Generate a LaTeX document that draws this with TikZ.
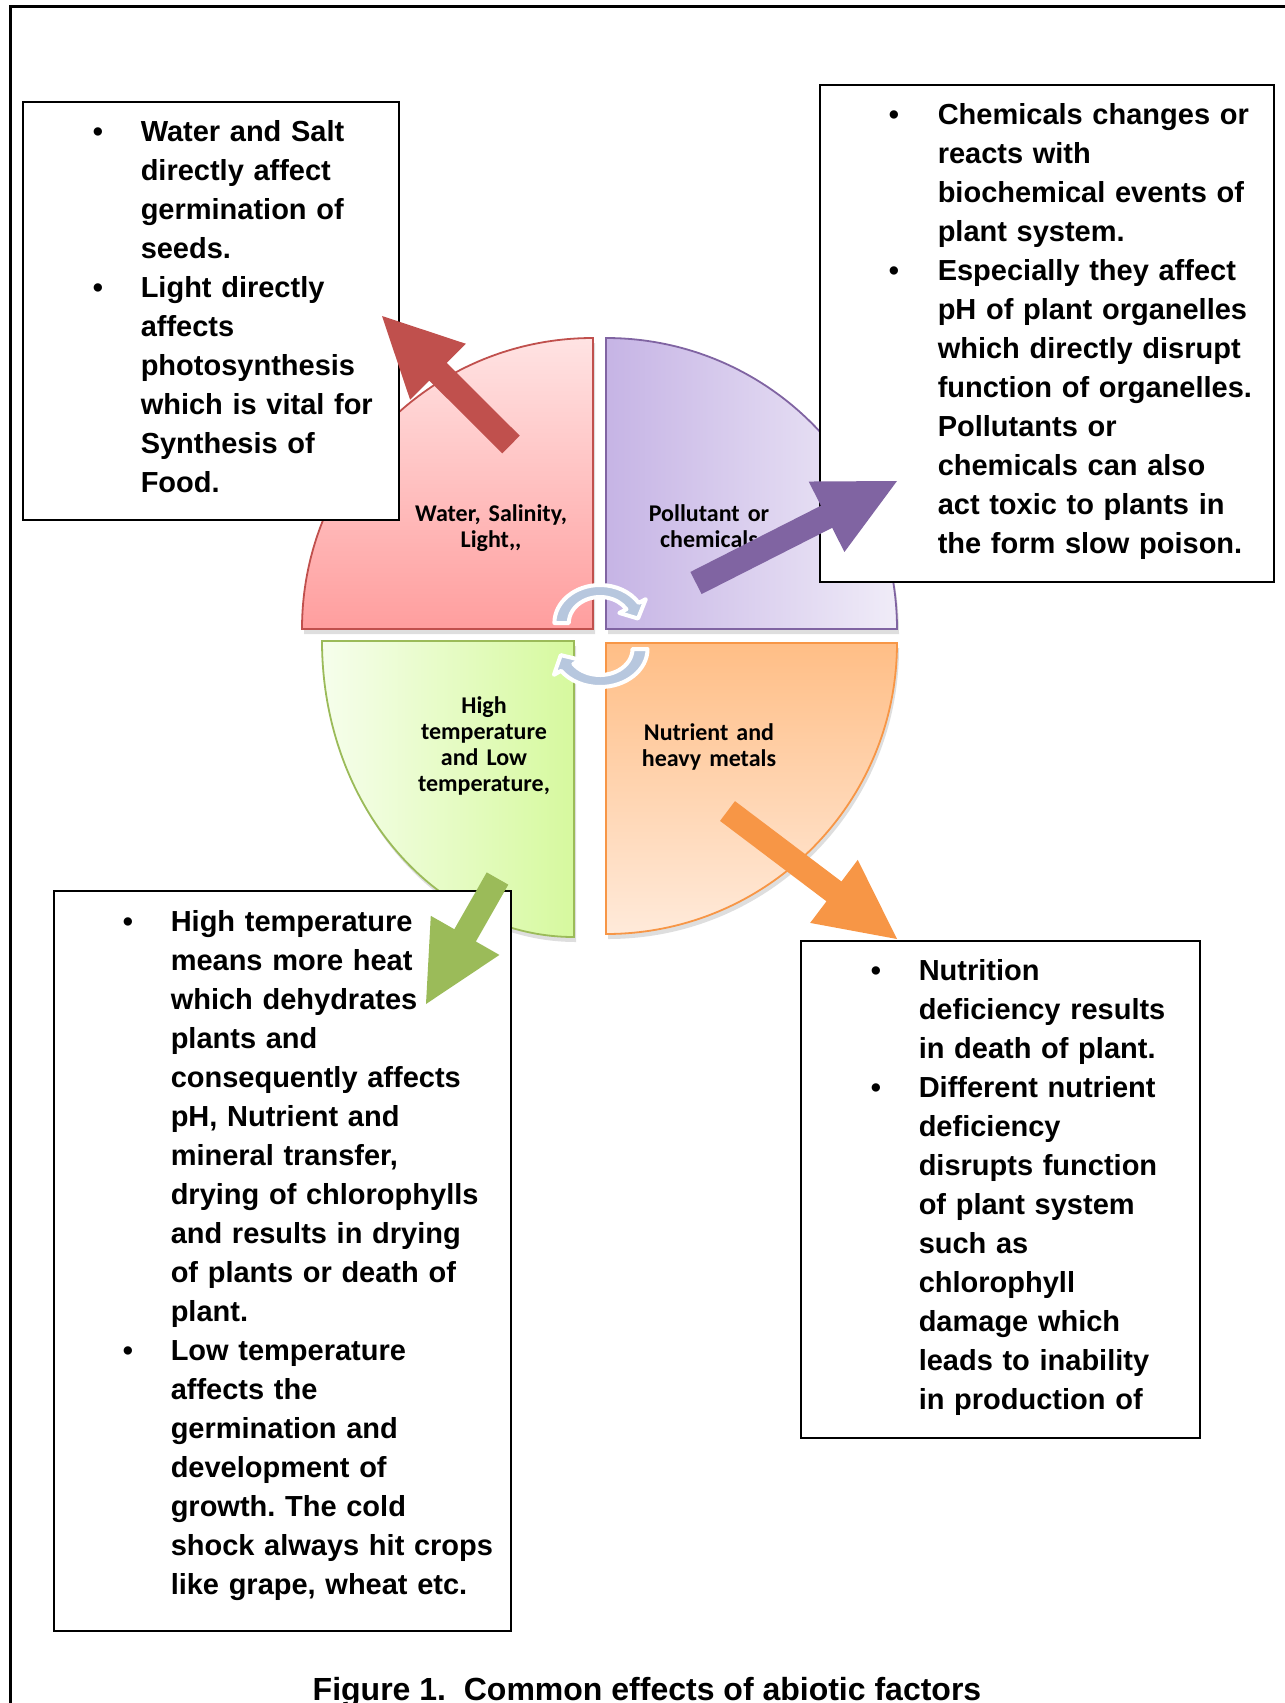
\documentclass[tikz,border=0pt]{standalone}
\usepackage{fontspec}
\setmainfont{Liberation Sans}
\newfontfamily\calibrifont{Carlito}
\usetikzlibrary{calc}

\definecolor{redline}{RGB}{192,80,77}
\definecolor{redtop}{RGB}{255,227,227}
\definecolor{redbot}{RGB}{255,158,158}
\definecolor{purpline}{RGB}{128,100,162}
\definecolor{purpleft}{RGB}{198,180,229}
\definecolor{purpright}{RGB}{240,236,248}
\definecolor{greenline}{RGB}{155,187,89}
\definecolor{greenleft}{RGB}{246,254,236}
\definecolor{greenright}{RGB}{214,249,158}
\definecolor{orangeline}{RGB}{247,150,70}
\definecolor{orangetop}{RGB}{255,190,134}
\definecolor{orangebot}{RGB}{255,234,218}
\definecolor{cyclefill}{RGB}{183,199,222}

\tikzset{every picture/.style={line width=0.75pt}}
\tikzset{
  quad/.style={line width=0.9pt},
  qshadow/.style={fill=black, fill opacity=0.13, draw=none},
  notebox/.style={draw=black, fill=white, line width=1.1pt},
  notetext/.style={anchor=base west, inner sep=0pt, text width=230pt, align=left, font=\frenchspacing\bfseries\fontsize{14.5}{19.5}\selectfont},
  dot/.style={anchor=base, inner sep=0pt, font=\bfseries\fontsize{14.5}{19.5}\selectfont},
  quadlabel/.style={anchor=base, inner sep=0pt, text width=95pt, align=center, font=\calibrifont\bfseries\fontsize{12}{13}\selectfont},
  cyclearrow/.style={fill=cyclefill, draw=white, line width=2pt, line join=round},
}

% block arrow: colour, tail, tip
\newcommand{\blockarrow}[3]{%
  \coordinate (#3-base) at ($(#3)!39.5pt!(#2)$);
  \fill[#1] ($(#2)!6.2pt!90:(#3)$) -- ($(#3-base)!6.2pt!90:(#3)$) -- ($(#3-base)!19.75pt!90:(#3)$) -- (#3)
    -- ($(#3-base)!19.75pt!-90:(#3)$) -- ($(#3-base)!6.2pt!-90:(#3)$) -- ($(#2)!6.2pt!-90:(#3)$) -- cycle;
}
% curved arrow: centre, xscale, start angle, head angle, tip angle
\newcommand{\cycarrow}[5]{%
  \begin{scope}[shift={#1}, xscale=#2]
  \path[cyclearrow] (#3:38) arc[start angle=#3, end angle=#4, radius=38] -- (#4:45) -- (#5:32)
    -- (#4:19) -- (#4:26) arc[start angle=#4, end angle=#3, radius=26] -- cycle;
  \end{scope}
}

\newcommand{\redquad}{(593,629) -- (302,629) arc[start angle=180, end angle=270, radius=291] -- cycle}
\newcommand{\purpquad}{(606,629) -- (606,338) arc[start angle=270, end angle=360, radius=291] -- cycle}
\newcommand{\orangequad}{(606,643) -- (897,643) arc[start angle=0, end angle=90, radius=291] -- cycle}
\newcommand{\greenquad}{(574,641) -- (574,937) arc[start angle=90, end angle=180, x radius=252, y radius=296] -- cycle}

\begin{document}
\begin{tikzpicture}[x=0.5pt,y=0.5pt,yscale=-1,xscale=1]
\useasboundingbox (0,0) rectangle (1285,1703);

%Shape: Frame
\draw[line width=1.5pt] (10,1710) -- (10,6) -- (1290,6);

%Shape: Quadrant shadows
\fill[qshadow, shift={(2,5)}] \redquad;
\fill[qshadow, shift={(2,5)}] \purpquad;
\fill[qshadow, shift={(2,5)}] \orangequad;
\fill[qshadow, shift={(2,5)}] \greenquad;

%Shape: Quadrants
\path[quad, draw=redline, top color=redtop, bottom color=redbot] \redquad;
\path[quad, draw=purpline, left color=purpleft, right color=purpright] \purpquad;
\path[quad, draw=orangeline, top color=orangetop, bottom color=orangebot] \orangequad;
\path[quad, draw=greenline, left color=greenleft, right color=greenright] \greenquad;

% Text Node
\node[quadlabel] (water) at (491,521) {Water, Salinity,\\Light,,};
\node[quadlabel] (pollutant) at (709,521) {Pollutant or\\chemicals};
\node[quadlabel] (temp) at (484,713) {High\\temperature\\and Low\\temperature,};
\node[quadlabel] (nutrient) at (709,740) {Nutrient and\\heavy metals};

%Shape: Cycle arrows
\cycarrow{(600,623)}{1.2}{180}{328}{352}
\cycarrow{(600,649)}{1.25}{0}{145}{169}

%Shape: Note boxes
\draw[notebox] (23,102) rectangle (399,520);
\draw[notebox] (820,85) rectangle (1274,582);
\draw[notebox] (54,891) rectangle (511,1631);
\draw[notebox] (801,941) rectangle (1200,1438);

% Text Node
\node[dot] (tl-b1) at (98,141.7) {•};
\node[dot] (tl-b2) at (98,297.7) {•};
\node[notetext] (tl-text) at (140,141.7) {Water and Salt\\directly affect\\germination of\\seeds.\\Light directly\\affects\\photosynthesis\\which is vital for\\Synthesis of\\Food.};

% Text Node
\node[dot] (tr-b1) at (894,124) {•};
\node[dot] (tr-b2) at (894,280) {•};
\node[notetext] (tr-text) at (937,124) {Chemicals changes or\\reacts with\\biochemical events of\\plant system.\\Especially they affect\\pH of plant organelles\\which directly disrupt\\function of organelles.\\Pollutants or\\chemicals can also\\act toxic to plants in\\the form slow poison.};

% Text Node
\node[dot] (bl-b1) at (128,931) {•};
\node[dot] (bl-b2) at (128,1360) {•};
\node[notetext] (bl-text) at (170,931) {High temperature\\means more heat\\which dehydrates\\plants and\\consequently affects\\pH, Nutrient and\\mineral transfer,\\drying of chlorophylls\\and results in drying\\of plants or death of\\plant.\\Low temperature\\affects the\\germination and\\development of\\growth. The cold\\shock always hit crops\\like grape, wheat etc.};

% Text Node
\node[dot] (br-b1) at (876,980.7) {•};
\node[dot] (br-b2) at (876,1097.7) {•};
\node[notetext] (br-text) at (918,980.7) {Nutrition\\deficiency results\\in death of plant.\\Different nutrient\\deficiency\\disrupts function\\of plant system\\such as\\chlorophyll\\damage which\\leads to inability\\in production of};

%Shape: Block arrows
\coordinate (red-tail) at (511,444.5);
\coordinate (red-tip) at (382,316);
\coordinate (purp-tail) at (696,583);
\coordinate (purp-tip) at (897,481);
\coordinate (orange-tail) at (727.5,811);
\coordinate (orange-tip) at (897,939);
\coordinate (green-tail) at (497.5,878.5);
\coordinate (green-tip) at (426,1004);
\blockarrow{redline}{red-tail}{red-tip}
\blockarrow{purpline}{purp-tail}{purp-tip}
\blockarrow{orangeline}{orange-tail}{orange-tip}
\blockarrow{greenline}{green-tail}{green-tip}

% Text Node
\node[anchor=base, inner sep=0pt, font=\bfseries\fontsize{16}{19}\selectfont] (caption) at (647,1700) {Figure 1.\ \ Common effects of abiotic factors};

\end{tikzpicture}
\end{document}
